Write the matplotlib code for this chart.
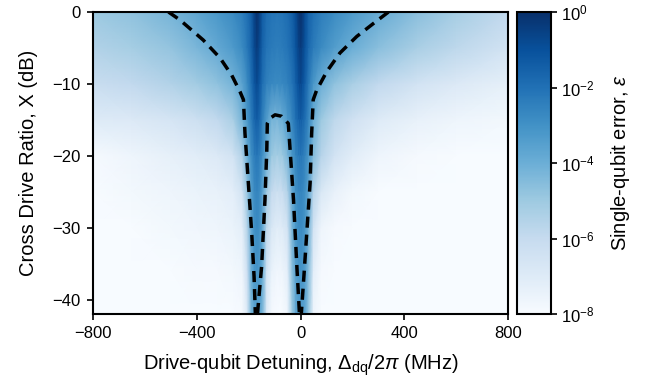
import numpy as np
import matplotlib
matplotlib.use("Agg")
import matplotlib.pyplot as plt
from matplotlib.colors import LogNorm
from matplotlib.ticker import NullLocator

plt.rcParams['font.family'] = ['Liberation Sans', 'DejaVu Sans']
plt.rcParams['mathtext.fontset'] = 'custom'
plt.rcParams['mathtext.rm'] = 'Liberation Sans'
plt.rcParams['mathtext.it'] = 'Liberation Sans:italic'
plt.rcParams['mathtext.bf'] = 'Liberation Sans:bold'

# ---- data ----
detuning_mhz = [-800, -650, -500, -400, -320, -260, -225, -205, -190, -178,
                -168, -158, -146, -130, -110, -90, -70, -50, -32, -18,
                -8, 0, 8, 18, 32, 50, 80, 130, 200, 300,
                450, 600, 800]
cross_drive_db = [0, -5, -10, -15, -20, -25, -30, -36, -42]

# log10 of single-qubit error, one row per cross-drive ratio
log_err_0 = [-5.0, -4.7, -4.2, -3.7, -3.2, -2.8, -2.4, -2.0, -1.5, -0.6,
             -0.1, -0.5, -1.4, -1.9, -2.1, -2.2, -2.1, -1.9, -1.5, -0.9,
             -0.3, -0.05, -0.3, -0.9, -1.6, -2.0, -2.4, -2.8, -3.3, -3.9,
             -4.6, -5.2, -5.9]
log_err_5 = [-5.5, -5.2, -4.8, -4.3, -3.8, -3.3, -2.8, -2.2, -1.6, -0.8,
             -0.4, -0.8, -1.6, -2.1, -2.3, -2.4, -2.3, -2.1, -1.7, -1.1,
             -0.6, -0.35, -0.6, -1.1, -1.8, -2.3, -2.8, -3.4, -4.0, -4.6,
             -5.3, -5.8, -6.5]
log_err_10 = [-6.1, -5.9, -5.5, -5.1, -4.7, -4.2, -3.6, -2.8, -2.0, -1.2,
              -0.8, -1.2, -2.0, -2.5, -2.7, -2.8, -2.7, -2.5, -2.1, -1.5,
              -1.0, -0.7, -1.0, -1.5, -2.3, -3.2, -4.0, -4.7, -5.3, -5.9,
              -6.5, -6.9, -7.3]
log_err_15 = [-7.0, -6.9, -6.6, -6.3, -5.9, -5.3, -4.2, -3.2, -2.4, -1.7,
              -1.4, -1.7, -2.5, -3.4, -4.2, -4.3, -4.0, -3.3, -2.6, -2.0,
              -1.6, -1.4, -1.6, -2.0, -2.7, -4.0, -5.0, -5.8, -6.4, -7.0,
              -7.4, -7.6, -7.8]
log_err_20 = [-7.9, -7.6, -7.3, -7.1, -6.9, -6.5, -5.5, -4.0, -3.0, -2.4,
              -2.2, -2.4, -3.0, -4.0, -5.0, -5.2, -5.0, -4.3, -3.2, -2.6,
              -2.3, -2.2, -2.3, -2.6, -3.2, -4.5, -5.6, -6.5, -7.1, -7.6,
              -7.9, -8.0, -8.0]
log_err_25 = [-8.0, -7.8, -7.6, -7.5, -7.4, -7.2, -6.5, -4.8, -3.5, -2.8,
              -2.6, -2.8, -3.6, -5.0, -6.0, -6.3, -6.1, -5.5, -3.8, -3.0,
              -2.7, -2.6, -2.7, -3.0, -3.8, -5.6, -6.8, -7.4, -7.8, -8.0,
              -8.0, -8.0, -8.0]
log_err_30 = [-8.0, -8.0, -7.8, -7.7, -7.6, -7.5, -7.2, -5.5, -3.8, -3.0,
              -2.8, -3.0, -3.8, -5.8, -6.8, -7.1, -7.0, -6.5, -4.2, -3.2,
              -2.9, -2.8, -2.9, -3.2, -4.2, -6.5, -7.6, -7.9, -8.0, -8.0,
              -8.0, -8.0, -8.0]
log_err_36 = [-8.0, -8.0, -8.0, -7.9, -7.9, -7.8, -7.6, -6.2, -4.0, -3.3,
              -3.1, -3.3, -4.0, -6.5, -7.5, -7.7, -7.6, -7.2, -4.6, -3.5,
              -3.2, -3.1, -3.2, -3.5, -4.6, -7.2, -7.9, -8.0, -8.0, -8.0,
              -8.0, -8.0, -8.0]
log_err_42 = [-8.0, -8.0, -8.0, -8.0, -8.0, -8.0, -7.9, -6.8, -4.3, -3.6,
              -3.5, -3.6, -4.3, -7.0, -7.9, -8.0, -8.0, -7.6, -5.0, -3.8,
              -3.5, -3.4, -3.5, -3.8, -5.0, -7.6, -8.0, -8.0, -8.0, -8.0,
              -8.0, -8.0, -8.0]

# threshold contour
outer_left_x = [-509, -465, -375, -310, -265, -233, -220, -214, -201, -188, -179, -174]
outer_left_y = [0, -1.1, -3.9, -6.4, -8.8, -11.1, -12.2, -16.9, -23.8, -30.8, -36.8, -42]
inner_loop_x = [-166, -150, -137, -130, -128, -118, -98, -73, -47, -40, -27, -14, -4]
inner_loop_y = [-42, -35.4, -26.1, -19.2, -15.5, -14.8, -14.3, -14.5, -15.5, -19.2, -26.1, -35.4, -42]
outer_right_x = [339, 281, 217, 152, 101, 62, 49, 43, 37, 24, 13, 3]
outer_right_y = [0, -1.6, -3.4, -5.7, -8.3, -10.9, -12.2, -16.9, -23.8, -30.8, -36.8, -42]

x_ticks = [-800, -400, 0, 400, 800]
y_ticks = [0, -10, -20, -30, -40]
cbar_ticks = [1e-8, 1e-6, 1e-4, 1e-2, 1e0]

# ---- figure ----
log_err = np.array([log_err_0, log_err_5, log_err_10, log_err_15, log_err_20,
                    log_err_25, log_err_30, log_err_36, log_err_42])
err = 10.0 ** log_err

fig = plt.figure(figsize=(6.45, 3.86), dpi=100)
ax = fig.add_axes([93 / 645, 1 - 314 / 386, 415 / 645, 302 / 386])
cax = fig.add_axes([517 / 645, 1 - 314 / 386, 34 / 645, 302 / 386])

norm = LogNorm(vmin=1e-8, vmax=1)
mesh = ax.pcolormesh(np.array(detuning_mhz), np.array(cross_drive_db), err,
                     shading='gouraud', cmap='Blues', norm=norm, rasterized=True)

dash = (0, (3.2, 2.0))
for xs, ys in [(outer_left_x, outer_left_y), (inner_loop_x, inner_loop_y),
               (outer_right_x, outer_right_y)]:
    ax.plot(xs, ys, color='black', lw=2.5, linestyle=dash, dash_capstyle='butt')

ax.set_xlim(-800, 800)
ax.set_ylim(-42, 0)
ax.set_xticks(x_ticks)
ax.set_yticks(y_ticks)
ax.tick_params(labelsize=12, direction='out', length=4, width=1.2, pad=5)
for s in ax.spines.values():
    s.set_linewidth(1.5)
ax.set_xlabel(r'Drive-qubit Detuning, $\Delta_{\mathrm{dq}}/2\pi$ (MHz)', fontsize=14.5, labelpad=8)
ax.set_ylabel('Cross Drive Ratio, X (dB)', fontsize=14.5, labelpad=10)

cb = fig.colorbar(mesh, cax=cax)
cb.set_ticks(cbar_ticks)
cb.ax.yaxis.set_minor_locator(NullLocator())
cb.ax.tick_params(labelsize=12, length=4, width=1.2)
cb.outline.set_linewidth(1.5)
cb.set_label(r'Single-qubit error, $\varepsilon$', fontsize=14.5, labelpad=10)

fig.savefig('out.png', dpi=100)
